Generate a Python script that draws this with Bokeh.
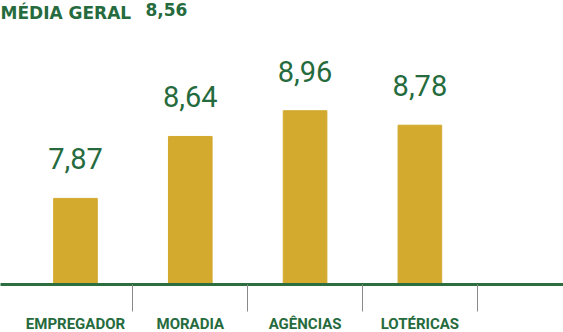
import numpy as np
from bokeh.plotting import figure
from bokeh.core.properties import value
from bokeh.models import ColumnDataSource, Range1d, FixedTicker, Label, LabelSet
from bokeh.embed import file_html
from bokeh.resources import INLINE

categories = ["EMPREGADOR", "MORADIA", "AGÊNCIAS", "LOTÉRICAS"]
values = [7.87, 8.64, 8.96, 8.78]
value_labels = ["7,87", "8,64", "8,96", "8,78"]
title_text = "MÉDIA GERAL"
title_value = "8,56"

GREEN = "#256b3d"
GOLD = "#d3aa2e"

centers = np.arange(len(categories)) + 0.5
separators = list(np.arange(1, len(categories) + 2))

src = ColumnDataSource(dict(x=centers, top=values, lab=value_labels))

p = figure(frame_width=563, frame_height=284, output_backend="svg", toolbar_location=None,
           x_range=Range1d(-0.153, 4.751), y_range=Range1d(6.8, 10.33),
           min_border_left=0, min_border_right=0, min_border_top=0, min_border_bottom=0)
p.outline_line_color = None
p.background_fill_color = "white"
p.border_fill_color = "white"
p.xgrid.visible = False
p.ygrid.visible = False
p.yaxis.visible = False

p.vbar(x="x", top="top", bottom=6.8, width=0.38, color=GOLD, source=src)

labels = LabelSet(x="x", y="top", text="lab", source=src, text_align="center",
                  text_baseline="alphabetic", y_offset=29, text_color=GREEN,
                  text_font=value("Roboto"), text_font_size="29px")
p.add_layout(labels)

ax = p.xaxis[0]
ax.ticker = FixedTicker(ticks=list(centers), minor_ticks=separators)
ax.major_label_overrides = {float(c): n for c, n in zip(centers, categories)}
ax.axis_line_color = "#2c6e3f"
ax.axis_line_width = 3
ax.major_tick_out = 0
ax.major_tick_in = 0
ax.minor_tick_in = 0
ax.minor_tick_out = 27
ax.minor_tick_line_color = "#8a8a8a"
ax.minor_tick_line_width = 1
ax.major_label_standoff = 3
ax.major_label_text_font = "Roboto"
ax.major_label_text_font_style = "bold"
ax.major_label_text_font_size = "15px"
ax.major_label_text_color = GREEN

t1 = Label(x=p.x_range.start, y=p.y_range.end, text=title_text, text_baseline="top",
           x_offset=0, y_offset=-2, text_color=GREEN, text_font="DejaVu Sans",
           text_font_style="bold", text_font_size="17px")
t2 = Label(x=p.x_range.start, y=p.y_range.end, text=title_value, text_baseline="top",
           x_offset=145, y_offset=-2, text_color=GREEN, text_font="DejaVu Sans",
           text_font_style="bold", text_font_size="17px")
p.add_layout(t1)
p.add_layout(t2)

open("out.html", "w").write(file_html(p, INLINE))
